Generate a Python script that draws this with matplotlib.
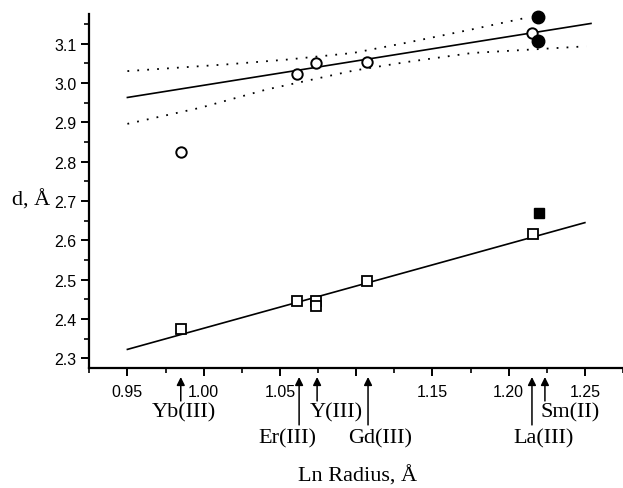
import matplotlib
matplotlib.use("Agg")
import matplotlib.pyplot as plt
import matplotlib.transforms as mtransforms
from matplotlib.ticker import MultipleLocator, FixedLocator

# ---- data ----
circ_open_x = [0.985, 1.061, 1.074, 1.107, 1.215]
circ_open_y = [2.825, 3.023, 3.051, 3.053, 3.127]
circ_fill_x = [1.219, 1.219]
circ_fill_y = [3.168, 3.107]

sq_open_x = [0.985, 1.061, 1.074, 1.074, 1.107, 1.216]
sq_open_y = [2.374, 2.445, 2.445, 2.433, 2.496, 2.616]
sq_fill_x = [1.220]
sq_fill_y = [2.670]

fit_upper_x = [0.95, 1.254]
fit_upper_y = [2.963, 3.151]
fit_lower_x = [0.95, 1.25]
fit_lower_y = [2.323, 2.645]

band_hi_x = [0.95, 1.015, 1.054, 1.098, 1.133, 1.176, 1.211]
band_hi_y = [3.030, 3.047, 3.059, 3.076, 3.102, 3.136, 3.165]
band_lo_x = [0.95, 0.998, 1.041, 1.098, 1.133, 1.176, 1.251]
band_lo_y = [2.896, 2.937, 2.983, 3.031, 3.053, 3.076, 3.093]

ions = ["Yb(III)", "Er(III)", "Y(III)", "Gd(III)", "La(III)", "Sm(II)"]
ion_radius = [0.985, 1.0626, 1.0744, 1.1078, 1.2153, 1.2238]
ion_label_x = [0.987, 1.0548, 1.087, 1.116, 1.223, 1.240]
ion_row = [0, 1, 0, 1, 1, 0]   # 0 = upper row, 1 = lower row

x_ticks = [0.95, 1.00, 1.05, 1.10, 1.15, 1.20, 1.25]
x_tick_labels = ["0.95", "1.00", "1.05", "", "1.15", "1.20", "1.25"]
y_ticks = [2.3, 2.4, 2.5, 2.6, 2.7, 2.8, 2.9, 3.0, 3.1]
y_tick_labels = ["2.3", "2.4", "2.5", "2.6", "2.7", "2.8", "2.9", "3.0", "3.1"]

SANS = "Liberation Sans"
SERIF = "Liberation Serif"

fig = plt.figure(figsize=(6.23, 4.89), dpi=100)
ax = fig.add_axes([0.1433, 0.2448, 1.0 - 0.1433, 0.9693 - 0.2448])
ax.set_xlim(0.925, 1.275)
ax.set_ylim(2.275, 3.175)

for s in ["top", "right"]:
    ax.spines[s].set_visible(False)
for s in ["left", "bottom"]:
    ax.spines[s].set_linewidth(1.6)

ax.xaxis.set_major_locator(FixedLocator(x_ticks))
ax.set_xticklabels(x_tick_labels)
ax.xaxis.set_minor_locator(MultipleLocator(0.025))
ax.yaxis.set_major_locator(FixedLocator(y_ticks))
ax.set_yticklabels(y_tick_labels)
ax.yaxis.set_minor_locator(MultipleLocator(0.05))
ax.tick_params(which="major", direction="out", length=6, width=1.4,
               labelsize=11.5, pad=3)
ax.tick_params(which="minor", direction="out", length=3.5, width=1.2)
ax.tick_params(axis="x", which="major", pad=5)
for lab in ax.get_xticklabels() + ax.get_yticklabels():
    lab.set_fontfamily(SANS)

# fit lines and confidence bands
ax.plot(fit_upper_x, fit_upper_y, color="black", lw=1.2)
ax.plot(fit_lower_x, fit_lower_y, color="black", lw=1.2)
ax.plot(band_hi_x, band_hi_y, color="black", lw=1.3, ls=(0, (1, 4.5)))
ax.plot(band_lo_x, band_lo_y, color="black", lw=1.3, ls=(0, (1, 4.5)))

# markers
ax.plot(circ_open_x, circ_open_y, ls="none", marker="o", ms=7.5,
        mfc="white", mec="black", mew=1.4, zorder=5, clip_on=False)
ax.plot(circ_fill_x, circ_fill_y, ls="none", marker="o", ms=9,
        mfc="black", mec="black", zorder=6, clip_on=False)
ax.plot(sq_open_x, sq_open_y, ls="none", marker="s", ms=6.5,
        mfc="white", mec="black", mew=1.3, zorder=5, clip_on=False)
ax.plot(sq_fill_x, sq_fill_y, ls="none", marker="s", ms=7,
        mfc="black", mec="black", zorder=6, clip_on=False)

# axis labels
fig.text(12 / 623, 0.591, "d, Å", family=SERIF, fontsize=16,
         ha="left", va="center")
fig.text(357 / 623, 0.025, "Ln Radius, Å", family=SERIF, fontsize=16,
         ha="center", va="center")

# arrows and ion labels below the axis
trans = mtransforms.blended_transform_factory(ax.transData, fig.transFigure)
arrow_top = 0.227
arrow_bottom = [0.178, 0.129]
label_y = [0.155, 0.102]
for name, xr, xl, row in zip(ions, ion_radius, ion_label_x, ion_row):
    ax.annotate("", xy=(xr, arrow_top), xycoords=trans,
                xytext=(xr, arrow_bottom[row]), textcoords=trans,
                arrowprops=dict(arrowstyle="-|>", color="black", lw=1.1,
                                mutation_scale=12, shrinkA=0, shrinkB=0),
                annotation_clip=False)
    ax.text(xl, label_y[row], name, transform=trans, family=SERIF,
            fontsize=16, ha="center", va="center")

fig.savefig("out.png", dpi=100)
